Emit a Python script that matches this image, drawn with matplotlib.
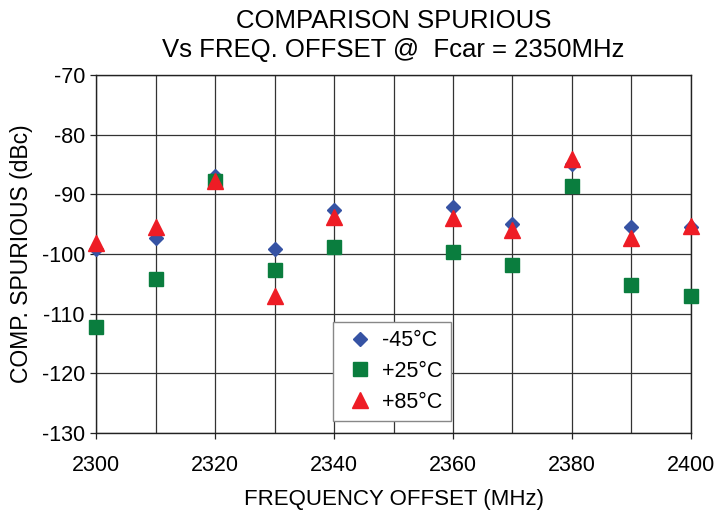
import matplotlib.pyplot as plt
import numpy as np

plt.rcParams['font.family'] = ['Liberation Sans', 'DejaVu Sans']
plt.rcParams['axes.unicode_minus'] = False

#------------------------------------------------------------------------
#                               Data
#------------------------------------------------------------------------
freq_mhz = [2300, 2310, 2320, 2330, 2340, 2360, 2370, 2380, 2390, 2400]
spur_m45 = [-99.2, -97.4, -87.0, -99.2, -92.7, -92.1, -94.9, -84.9, -95.5, -95.5]
spur_p25 = [-112.3, -104.2, -87.8, -102.7, -98.8, -99.6, -101.8, -88.6, -105.2, -107.0]
spur_p85 = [-98.1, -95.4, -87.7, -107.1, -93.8, -94.0, -95.9, -84.0, -97.4, -95.3]
labels = ['-45°C', '+25°C', '+85°C']

#------------------------------------------------------------------------
#                               Plot
#------------------------------------------------------------------------
fig = plt.figure(figsize=(7.15, 5.16), dpi=100)
ax = fig.add_axes([0.1343, 0.1609, 0.8321, 0.6938])

ax.plot(freq_mhz, spur_m45, 'D', color='#3653a4', ms=7.5, mec='#3653a4',
        label=labels[0], zorder=3, clip_on=False)
ax.plot(freq_mhz, spur_p25, 's', color='#0a7d3e', ms=10, mec='#0a7d3e',
        label=labels[1], zorder=3, clip_on=False)
ax.plot(freq_mhz, spur_p85, '^', color='#ee1c25', ms=11, mec='#ee1c25',
        label=labels[2], zorder=3, clip_on=False)

ax.set_xlim(2300, 2400)
ax.set_ylim(-130, -70)
ax.set_xticks(np.arange(2300, 2401, 20))
ax.set_xticks(np.arange(2300, 2401, 10), minor=True)
ax.set_yticks(np.arange(-130, -69, 10))
ax.grid(True, which='both', color='#333333', linewidth=0.9)
ax.tick_params(which='major', direction='out', length=4, width=0.9,
               color='#222222', labelsize=15.5)
ax.tick_params(axis='x', which='major', pad=12)
ax.tick_params(axis='y', which='major', pad=4)
ax.tick_params(which='minor', length=0)
for s in ax.spines.values():
    s.set_color('#222222')
    s.set_linewidth(1.0)

ax.set_xlabel('FREQUENCY OFFSET (MHz)', fontsize=16, labelpad=9)
ax.set_ylabel('COMP. SPURIOUS (dBc)', fontsize=16.5, labelpad=6)
ax.set_title('COMPARISON SPURIOUS\nVs FREQ. OFFSET @  Fcar = 2350MHz',
             fontsize=18.5, pad=13, linespacing=1.25)

leg = ax.legend(loc='lower left', bbox_to_anchor=(0.398, 0.033), borderaxespad=0,
                fontsize=15.5, fancybox=False, framealpha=1, edgecolor='#888888',
                handletextpad=0.2, labelspacing=0.45, borderpad=0.4, handlelength=1.7)
leg.get_frame().set_linewidth(1.0)

fig.savefig('out.png', dpi=100)
